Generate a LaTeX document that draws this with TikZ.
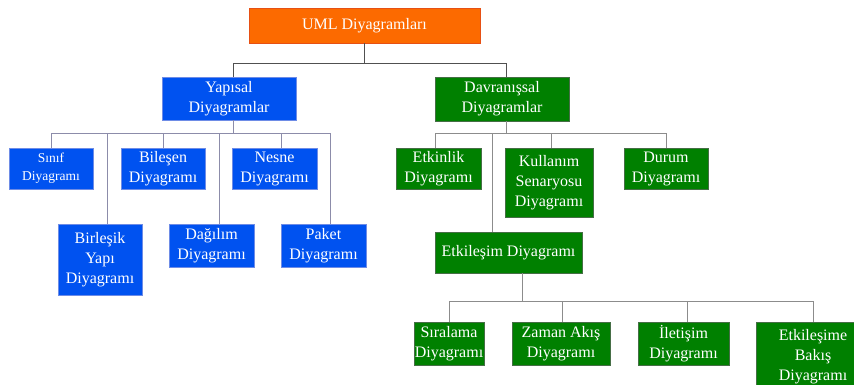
\documentclass[tikz,border=0pt]{standalone}
\usepackage{fontspec}
\setmainfont{Liberation Serif}
\definecolor{umlorange}{RGB}{252,106,0}
\definecolor{umledge}{RGB}{230,80,20}
\definecolor{strblue}{RGB}{0,82,240}
\definecolor{strblueedge}{RGB}{110,140,230}
\definecolor{behgreen}{RGB}{0,128,0}
\definecolor{behgreenedge}{RGB}{70,110,70}
\definecolor{bluelinkc}{RGB}{140,140,170}
\definecolor{graylinkc}{RGB}{140,140,140}
\definecolor{toplinkc}{RGB}{80,80,80}
\tikzset{
  box/.style={rectangle, inner sep=0pt, text=white, align=center,
    font=\fontsize{16}{20}\selectfont, line width=0.7pt},
  orangebox/.style={box, fill=umlorange, draw=umledge},
  bluebox/.style={box, fill=strblue, draw=strblueedge},
  greenbox/.style={box, fill=behgreen, draw=behgreenedge},
  toplink/.style={draw=toplinkc, line width=0.9pt},
  bluelink/.style={draw=bluelinkc, line width=0.9pt},
  graylink/.style={draw=graylinkc, line width=0.9pt}
}
\begin{document}
\begin{tikzpicture}[x=1pt,y=-1pt]
\useasboundingbox (0,0) rectangle (854,385);
\clip (0,0) rectangle (854,385);
\fill[white] (0,0) rectangle (854,385);

% bus levels
\coordinate (b0) at (0,63);
\coordinate (b1) at (0,133);
\coordinate (b2) at (0,301);

% root
\node[orangebox, minimum width=231pt, minimum height=35pt] (uml) at (364.5,25.5) {UML Diyagramları};

% structural branch
\node[bluebox, minimum width=134pt, minimum height=43pt] (yap) at (229,98.5) {Yapısal\\Diyagramlar};
\node[bluebox, minimum width=84pt, minimum height=41pt, font=\fontsize{13.5}{18}\selectfont] (sinif) at (51,168.5) {Sınıf\\Diyagramı};
\node[bluebox, minimum width=84pt, minimum height=41pt] (bilesen) at (163,168.5) {Bileşen\\Diyagramı};
\node[bluebox, minimum width=85pt, minimum height=41pt] (nesne) at (274.5,168.5) {Nesne\\Diyagramı};
\node[bluebox, minimum width=84pt, minimum height=71pt] (birlesik) at (100,259.5) {Birleşik\\Yapı\\Diyagramı};
\node[bluebox, minimum width=85pt, minimum height=43pt] (dagilim) at (211.5,245.5) {Dağılım\\Diyagramı};
\node[bluebox, minimum width=85pt, minimum height=43pt] (paket) at (323.5,245.5) {Paket\\Diyagramı};

% behavioural branch
\node[greenbox, minimum width=134pt, minimum height=44pt] (dav) at (502,99) {Davranışsal\\Diyagramlar};
\node[greenbox, minimum width=85pt, minimum height=41pt] (etkinlik) at (438.5,168.5) {Etkinlik\\Diyagramı};
\node[greenbox, minimum width=88pt, minimum height=69pt] (kullanim) at (549,182.5) {Kullanım\\Senaryosu\\Diyagramı};
\node[greenbox, minimum width=84pt, minimum height=41pt] (durum) at (666,168.5) {Durum\\Diyagramı};
\node[greenbox, minimum width=147pt, minimum height=41pt] (etkilesim) at (508.5,252.5) {Etkileşim Diyagramı};
\node[greenbox, minimum width=70pt, minimum height=43pt] (siralama) at (449,343.5) {Sıralama\\Diyagramı};
\node[greenbox, minimum width=98pt, minimum height=43pt] (zaman) at (561,343.5) {Zaman Akış\\Diyagramı};
\node[greenbox, minimum width=91pt, minimum height=43pt] (iletisim) at (683.5,343.5) {İletişim\\Diyagramı};
\node[greenbox, minimum width=114pt, minimum height=70pt] (bakis) at (813,357) {Etkileşime\\Bakış\\Diyagramı};

% root connectors
\draw[toplink] (uml.south) -- (uml.south |- b0);
\draw[toplink] ([xshift=4pt]yap.north) |- ([xshift=4pt]dav.north |- b0) -- ([xshift=4pt]dav.north);

% structural connectors
\draw[bluelink] ([xshift=4pt]yap.south) -- ([xshift=4pt]yap.south |- b1);
\draw[bluelink] (sinif.north) |- ([xshift=6.5pt]paket.north |- b1) -- ([xshift=6.5pt]paket.north);
\draw[bluelink] ([xshift=7pt]birlesik.north) -- ([xshift=7pt]birlesik.north |- b1);
\draw[bluelink] (bilesen.north) -- (bilesen.north |- b1);
\draw[bluelink] ([xshift=7.5pt]dagilim.north) -- ([xshift=7.5pt]dagilim.north |- b1);
\draw[bluelink] ([xshift=7pt]nesne.north) -- ([xshift=7pt]nesne.north |- b1);

% behavioural connectors
\draw[graylink] ([xshift=4pt]dav.south) -- ([xshift=4pt]dav.south |- b1);
\draw[graylink] ([xshift=-3.5pt]etkinlik.north) |- (durum.north |- b1) -- (durum.north);
\draw[graylink] ([xshift=2pt]kullanim.north) -- ([xshift=2pt]kullanim.north |- b1);
\draw[graylink] ([xshift=-16.5pt]etkilesim.north) -- ([xshift=-16.5pt]etkilesim.north |- b1);

% interaction connectors
\draw[graylink] ([xshift=13.5pt]etkilesim.south) -- ([xshift=13.5pt]etkilesim.south |- b2);
\draw[graylink] (siralama.north) |- (bakis.north |- b2) -- (bakis.north);
\draw[graylink] ([xshift=1pt]zaman.north) -- ([xshift=1pt]zaman.north |- b2);
\draw[graylink] ([xshift=3.5pt]iletisim.north) -- ([xshift=3.5pt]iletisim.north |- b2);
\end{tikzpicture}
\end{document}
